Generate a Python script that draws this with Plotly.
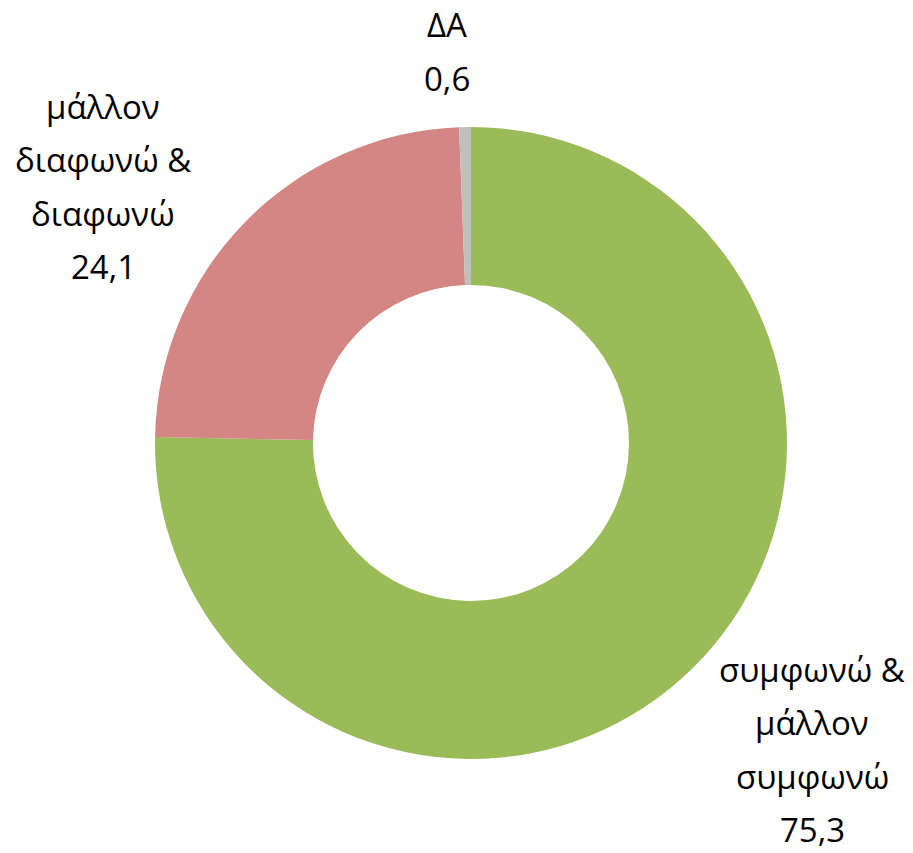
import plotly.graph_objects as go

categories = ["συμφωνώ & μάλλον συμφωνώ", "μάλλον διαφωνώ & διαφωνώ", "ΔΑ"]
values = [75.3, 24.1, 0.6]
value_labels = ["75,3", "24,1", "0,6"]
label_lines = [
    ["συμφωνώ &", "μάλλον", "συμφωνώ"],
    ["μάλλον", "διαφωνώ &", "διαφωνώ"],
    ["ΔΑ"],
]
colors = ["#9BBB59", "#D38683", "#BFBFBF"]

W, H = 913, 853
cx, cy, R = 471, 443, 316

fig = go.Figure(go.Pie(
    labels=categories,
    values=values,
    hole=0.5,
    sort=False,
    direction="clockwise",
    rotation=0,
    marker=dict(colors=colors, line=dict(width=0)),
    textinfo="none",
    hoverinfo="label+value",
    showlegend=False,
    domain=dict(x=[(cx - R) / W, (cx + R) / W], y=[1 - (cy + R) / H, 1 - (cy - R) / H]),
))

# label anchor positions (pixel centers of text blocks) and line spacing
anchors = [(812, 669), (103, 106), (447, 25)]
spacing = 53.5
font = dict(family="Open Sans, Noto Sans, sans-serif", size=33, color="#000000")
for lines, val, (ax, ay) in zip(label_lines, value_labels, anchors):
    for i, t in enumerate(lines + [val]):
        fig.add_annotation(
            x=ax / W, y=1 - (ay + i * spacing) / H,
            xref="paper", yref="paper",
            text=t, showarrow=False, font=font, borderpad=0,
            xanchor="center", yanchor="middle",
        )

fig.update_layout(
    width=W, height=H,
    margin=dict(l=0, r=0, t=0, b=0),
    paper_bgcolor="white", plot_bgcolor="white",
)
fig.write_html("out.html", config={"displayModeBar": False},
               post_script="document.body.style.margin='0';document.body.style.padding='0';")
